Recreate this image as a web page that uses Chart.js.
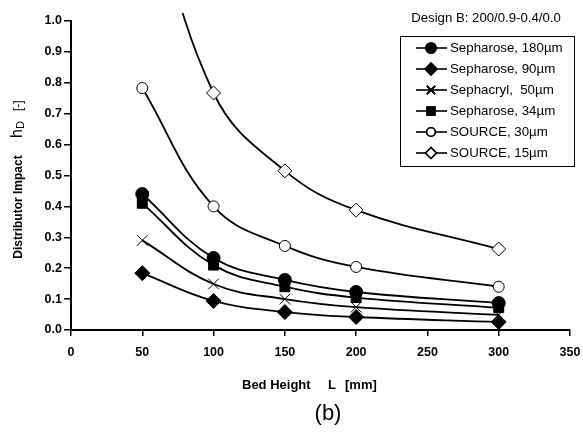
<!DOCTYPE html>
<html>
<head>
<meta charset="utf-8">
<script src="https://cdn.jsdelivr.net/npm/chart.js@4.4.1/dist/chart.umd.min.js"></script>
<style>
  html, body { margin: 0; padding: 0; background: #fff; }
  #wrap { width: 583px; height: 433px; position: relative; }
</style>
</head>
<body>
<div id="wrap"><canvas id="myChart" width="583" height="433"></canvas></div>
<script>
const bedHeights = [50, 100, 150, 200, 300];

const seph180 = [0.44, 0.233, 0.162, 0.123, 0.087];
const seph90 = [0.184, 0.094, 0.058, 0.042, 0.026];
const sephacryl50 = [0.29, 0.149, 0.10, 0.074, 0.049];
const seph34 = [0.41, 0.21, 0.14, 0.105, 0.072];
const source30 = [0.783, 0.40, 0.272, 0.204, 0.14];
const source15 = [1.5, 0.767, 0.515, 0.388, 0.262];

const FONT = "'Liberation Sans', Arial, sans-serif";

const toXY = arr => arr.map((v, i) => ({ x: bedHeights[i], y: v }));

const series = [
  { label: 'Sepharose, 180\u00b5m', data: seph180, pointStyle: 'circle', radius: 6.5, fill: '#000' },
  { label: 'Sepharose, 90\u00b5m', data: seph90, pointStyle: 'rectRot', radius: 7.5, fill: '#000' },
  { label: 'Sephacryl,  50\u00b5m', data: sephacryl50, pointStyle: 'crossRot', radius: 7.5, fill: '#fff' },
  { label: 'Sepharose, 34\u00b5m', data: seph34, pointStyle: 'rect', radius: 7, fill: '#000' },
  { label: 'SOURCE, 30\u00b5m', data: source30, pointStyle: 'circle', radius: 5.5, fill: '#fff' },
  { label: 'SOURCE, 15\u00b5m', data: source15, pointStyle: 'rectRot', radius: 7, fill: '#fff' },
];

// legend box, axis titles and captions
const extras = {
  id: 'extras',
  afterDraw(chart) {
    const ctx = chart.ctx;
    ctx.save();
    ctx.fillStyle = '#000';
    ctx.textBaseline = 'middle';

    // header above legend
    ctx.font = `13.2px ${FONT}`;
    ctx.textAlign = 'center';
    ctx.fillText('Design B: 200/0.9-0.4/0.0', 486, 18);

    // legend
    const bx = 400, by = 36, bw = 174, bh = 130;
    ctx.fillStyle = '#fff';
    ctx.fillRect(bx, by, bw, bh);
    ctx.strokeStyle = '#000';
    ctx.lineWidth = 1;
    ctx.strokeRect(bx + 0.5, by + 0.5, bw, bh);
    ctx.textAlign = 'left';
    ctx.font = `13.3px ${FONT}`;
    series.forEach((s, i) => {
      const y = 48 + i * 21;
      ctx.strokeStyle = '#000';
      ctx.lineWidth = 1.6;
      ctx.beginPath();
      ctx.moveTo(416, y);
      ctx.lineTo(447, y);
      ctx.stroke();
      Chart.helpers.drawPoint(ctx, {
        pointStyle: s.pointStyle,
        radius: s.radius * 0.78,
        borderWidth: 1,
        rotation: 0
      }, 431, y);
      ctx.fillStyle = s.fill;
      ctx.strokeStyle = '#000';
      if (s.pointStyle !== 'crossRot') ctx.fill();
      ctx.stroke();
      ctx.fillStyle = '#000';
      ctx.fillText(s.label, 450, y + 0.5);
    });

    // x axis title
    ctx.font = `bold 13px ${FONT}`;
    ctx.fillText('Bed Height', 242, 385);
    ctx.fillText('L', 328, 385);
    ctx.fillText('[mm]', 345, 385);

    // caption
    ctx.font = `22px ${FONT}`;
    ctx.textAlign = 'center';
    ctx.fillText('(b)', 328, 414);

    // y axis title
    ctx.translate(19, 0);
    ctx.rotate(-Math.PI / 2);
    ctx.textAlign = 'center';
    ctx.font = `bold 12px ${FONT}`;
    ctx.fillText('Distributor Impact', -207, 0);
    ctx.textAlign = 'left';
    ctx.font = `16px ${FONT}`;
    ctx.fillText('h', -138, -1);
    ctx.font = `11px ${FONT}`;
    ctx.fillText('D', -129, 2);
    ctx.font = `12px ${FONT}`;
    ctx.fillText('[-]', -111, 0);
    ctx.restore();
  }
};

new Chart(document.getElementById('myChart'), {
  type: 'line',
  data: {
    datasets: series.map(s => ({
      label: s.label,
      data: toXY(s.data),
      borderColor: '#000',
      borderWidth: 1.8,
      tension: 0.4,
      pointStyle: s.pointStyle,
      pointRadius: s.radius,
      pointBackgroundColor: s.fill,
      pointBorderColor: '#000',
      pointBorderWidth: 1,
      clip: { left: 10, top: 8, right: 10, bottom: 10 },
      fill: false,
    })),
  },
  options: {
    responsive: false,
    animation: false,
    layout: { padding: { top: 21, right: 13, left: 0, bottom: 0 } },
    plugins: {
      legend: { display: false },
      tooltip: { enabled: false },
    },
    scales: {
      x: {
        type: 'linear',
        min: 0,
        max: 350,
        afterFit: s => {
          s.height = 103;
          s.paddingLeft = 0;
          s.paddingRight = 0;
        },
        border: { color: '#000', width: 2 },
        grid: { drawOnChartArea: false, color: '#000', tickLength: 6, lineWidth: 1.5 },
        ticks: {
          stepSize: 50,
          color: '#000',
          padding: 9,
          font: { family: FONT, size: 12.5, weight: 'bold' },
        },
      },
      y: {
        min: 0,
        max: 1.0,
        afterFit: s => { s.width = 71; },
        border: { color: '#000', width: 2 },
        grid: { drawOnChartArea: false, color: '#000', tickLength: 7, lineWidth: 1.5 },
        ticks: {
          stepSize: 0.1,
          color: '#000',
          padding: 2,
          font: { family: FONT, size: 12.5, weight: 'bold' },
          callback: v => v.toFixed(1),
        },
      },
    },
  },
  plugins: [extras],
});
</script>
</body>
</html>
